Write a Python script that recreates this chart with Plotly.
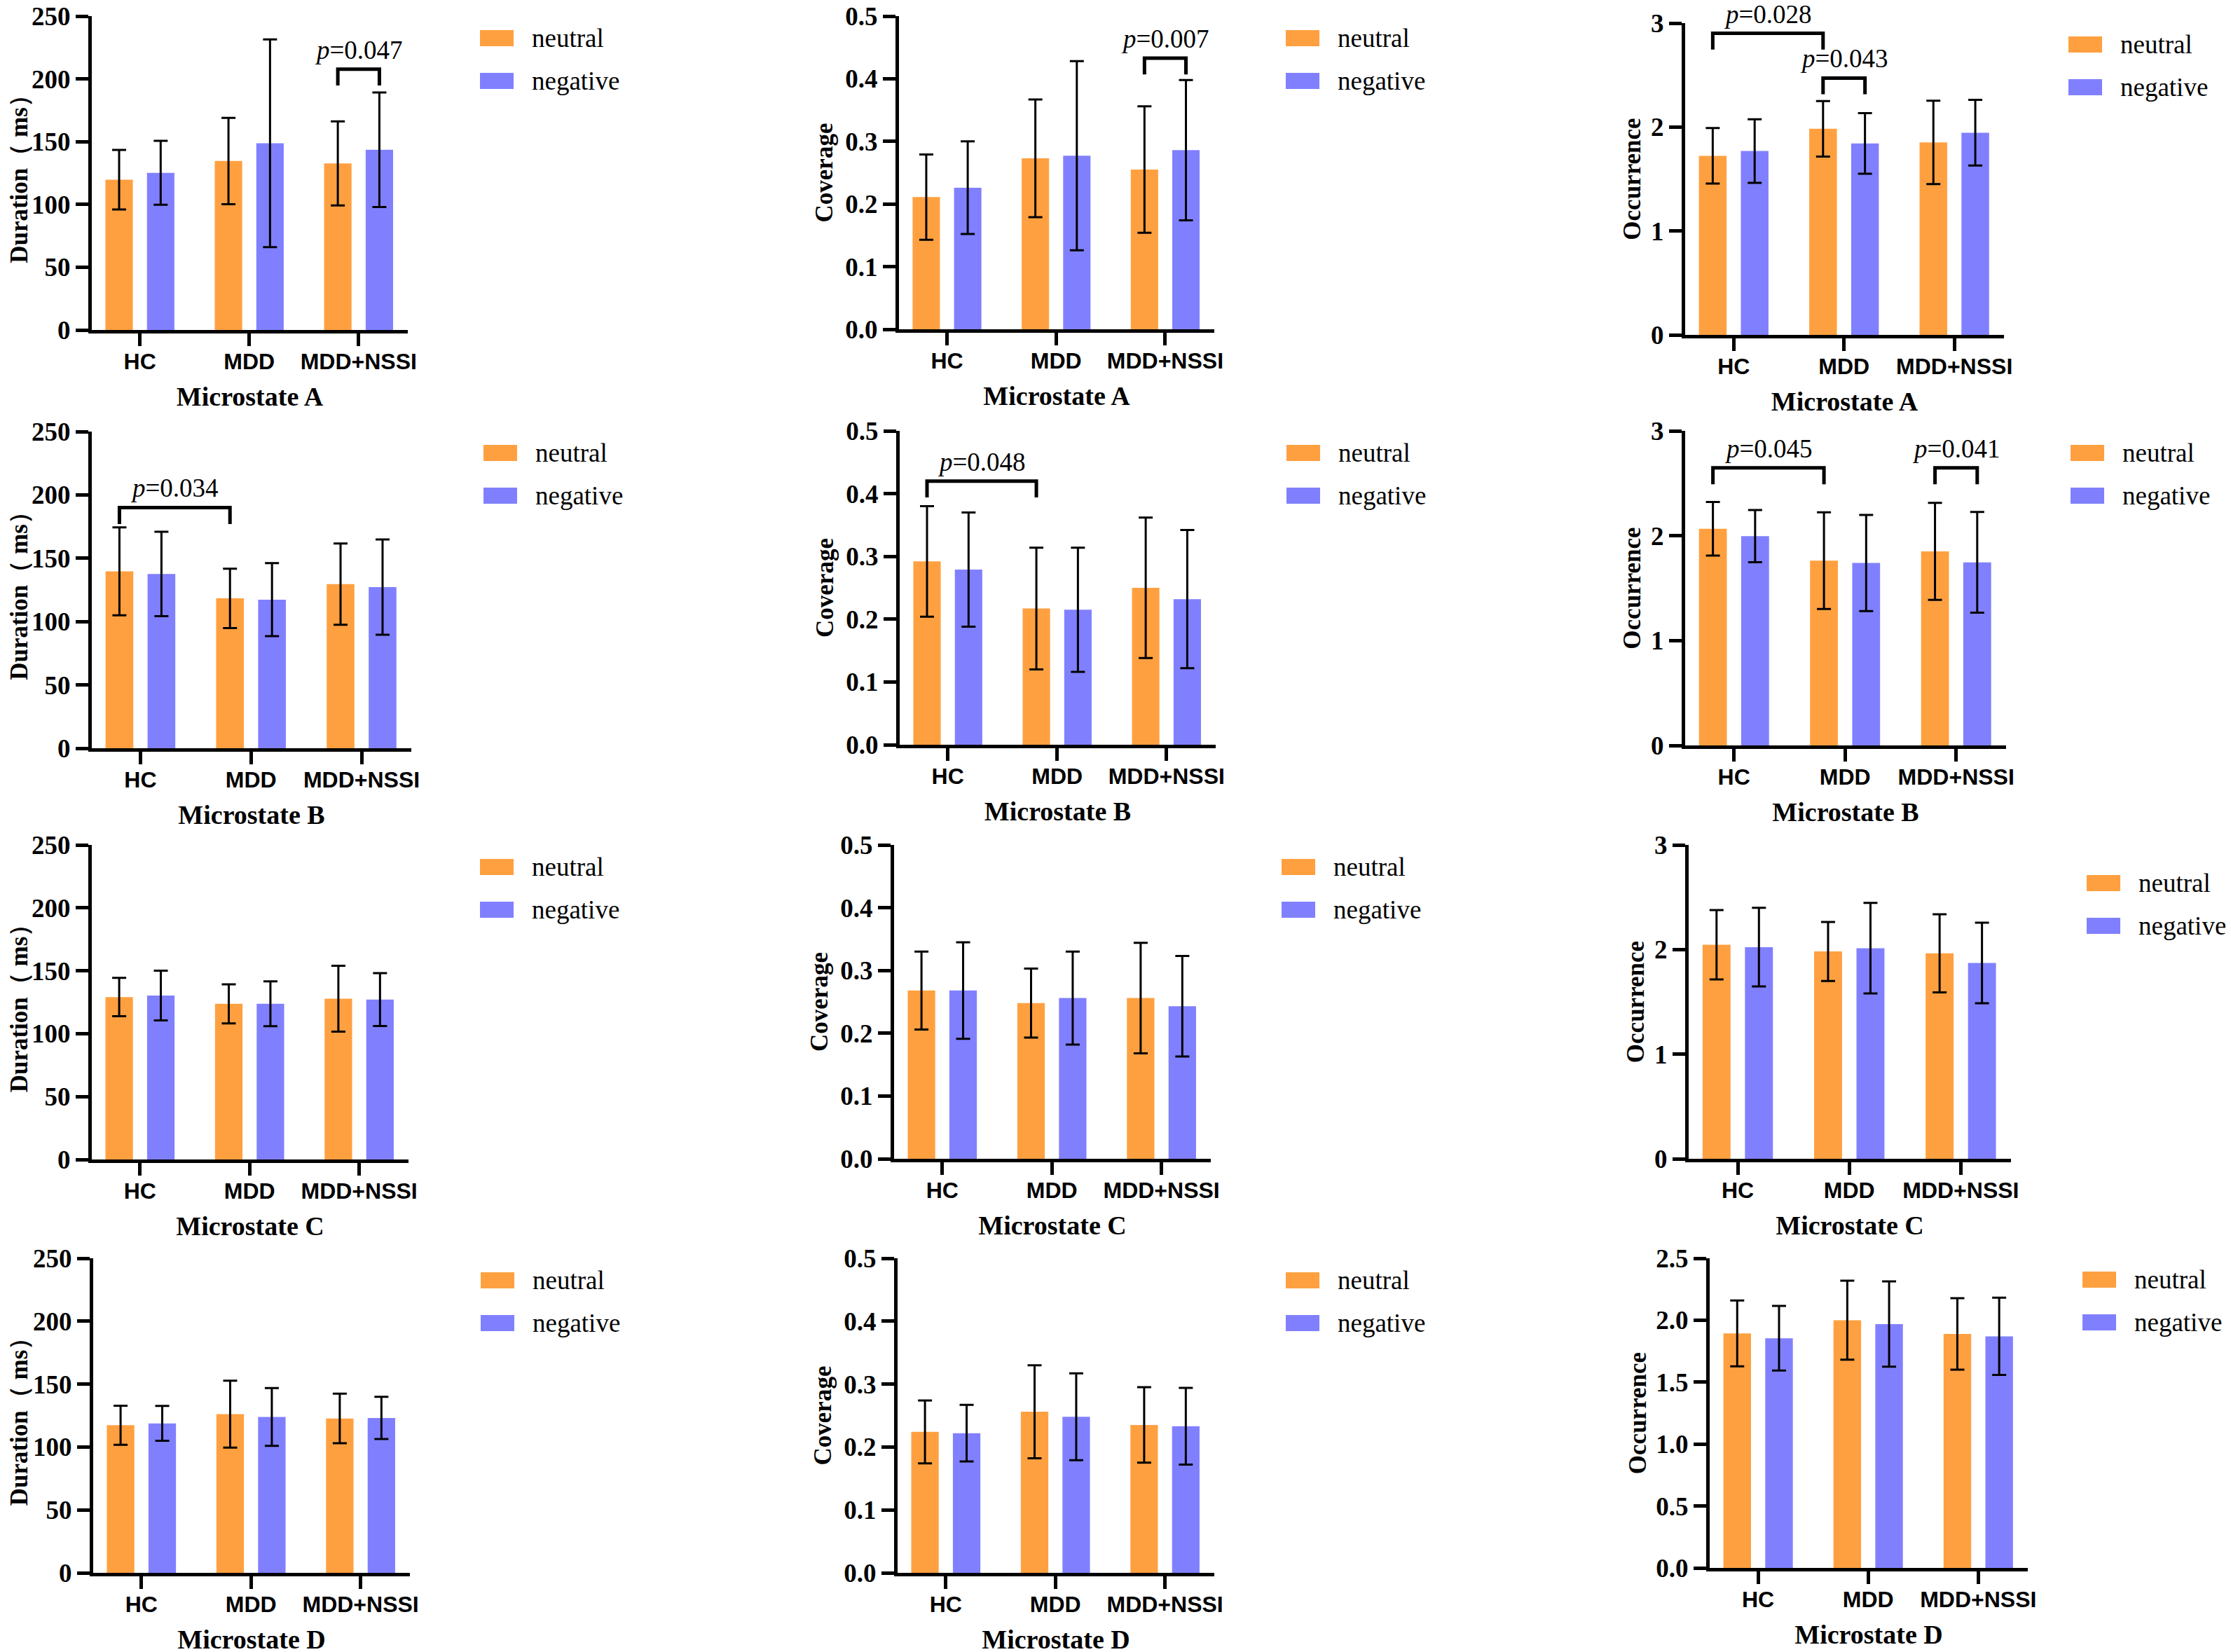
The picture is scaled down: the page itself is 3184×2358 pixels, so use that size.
import plotly.graph_objects as go
from plotly.subplots import make_subplots

W, H = 3184, 2358
PAGE_PAD = 8  # default body margin of the html page

GROUPS = ["HC", "MDD", "MDD+NSSI"]
MICROSTATES = ["A", "B", "C", "D"]
CONDITIONS = ["neutral", "negative"]
COLORS = {"neutral": "#FFA040", "negative": "#8080FF"}

# means and SDs, one row per microstate (A-D), one value per group
DUR_NEU = [[119.7, 134.6, 132.7], [139.7, 118.3, 129.6], [129.1, 123.7, 127.8], [117.3, 126.1, 122.7]]
DUR_NEU_SD = [[23.7, 34.4, 33.5], [34.7, 23.5, 32.1], [15.3, 15.5, 26.2], [15.5, 26.6, 19.7]]
DUR_NEG = [[125.2, 148.7, 143.6], [137.6, 117.3, 127.2], [130.3, 123.7, 127.1], [118.8, 123.9, 123.1]]
DUR_NEG_SD = [[25.5, 82.7, 45.6], [33.3, 28.8, 37.6], [19.8, 17.8, 21.0], [13.9, 23.0, 16.8]]

COV_NEU = [[0.211, 0.273, 0.255], [0.292, 0.217, 0.250], [0.268, 0.248, 0.256], [0.224, 0.256, 0.235]]
COV_NEU_SD = [[0.068, 0.094, 0.101], [0.088, 0.097, 0.112], [0.062, 0.055, 0.088], [0.050, 0.074, 0.060]]
COV_NEG = [[0.226, 0.277, 0.286], [0.279, 0.215, 0.232], [0.268, 0.256, 0.243], [0.222, 0.248, 0.233]]
COV_NEG_SD = [[0.074, 0.151, 0.112], [0.091, 0.099, 0.110], [0.077, 0.074, 0.080], [0.045, 0.069, 0.061]]

OCC_NEU = [[1.723, 1.983, 1.852], [2.066, 1.763, 1.851], [2.046, 1.982, 1.964], [1.893, 2.000, 1.889]]
OCC_NEU_SD = [[0.267, 0.267, 0.401], [0.256, 0.461, 0.463], [0.332, 0.282, 0.373], [0.266, 0.319, 0.288]]
OCC_NEG = [[1.769, 1.842, 1.945], [1.996, 1.740, 1.746], [2.023, 2.013, 1.872], [1.854, 1.969, 1.870]]
OCC_NEG_SD = [[0.306, 0.292, 0.316], [0.249, 0.459, 0.480], [0.376, 0.433, 0.385], [0.261, 0.344, 0.312]]

# significance brackets: (row, col, (group, condition) from, (group, condition) to, bracket height, p)
SIG = [
    (1, 1, (2, 0), (2, 1), 207.7, "0.047"),
    (1, 2, (2, 0), (2, 1), 0.433, "0.007"),
    (1, 3, (0, 0), (1, 0), 2.902, "0.028"),
    (1, 3, (1, 0), (1, 1), 2.471, "0.043"),
    (2, 1, (0, 0), (1, 0), 190.0, "0.034"),
    (2, 2, (0, 0), (1, 0), 0.420, "0.048"),
    (2, 3, (0, 0), (1, 0), 2.647, "0.045"),
    (2, 3, (2, 0), (2, 1), 2.647, "0.041"),
]

# panel frames in pixels: y-axis x, x-axis end, top y, zero y
FRAMES = {
    (1, 1): (131, 582, 23, 471), (1, 2): (1283, 1733, 23, 470), (1, 3): (2405, 2860, 33, 478),
    (2, 1): (131, 587, 616, 1068), (2, 2): (1284, 1735, 615, 1063), (2, 3): (2405, 2863, 615, 1064),
    (3, 1): (131, 583, 1206, 1655), (3, 2): (1276, 1728, 1206, 1654), (3, 3): (2410, 2870, 1206, 1654),
    (4, 1): (133, 585, 1796, 2245), (4, 2): (1281, 1733, 1796, 2245), (4, 3): (2440, 2894, 1796, 2238),
}
# legend swatch top-left in pixels
LEGEND_POS = {
    (1, 1): (685, 43), (1, 2): (1835, 43), (1, 3): (2952, 52),
    (2, 1): (690, 635), (2, 2): (1836, 635), (2, 3): (2955, 635),
    (3, 1): (685, 1226), (3, 2): (1829, 1226), (3, 3): (2978, 1249),
    (4, 1): (686, 1816), (4, 2): (1835, 1816), (4, 3): (2972, 1815),
}
YTITLE_STANDOFF = {1: 22, 2: 9, 3: 5}

BARGAP = 0.24
OFFSET = (1 - BARGAP) / 4
SERIF = "Liberation Serif"
SANS = "Liberation Sans"

METRICS = [
    ("Duration（ ms）", DUR_NEU, DUR_NEU_SD, DUR_NEG, DUR_NEG_SD),
    ("Coverage", COV_NEU, COV_NEU_SD, COV_NEG, COV_NEG_SD),
    ("Occurrence", OCC_NEU, OCC_NEU_SD, OCC_NEG, OCC_NEG_SD),
]


def axis_ticks(col, row):
    if col == 1:
        return [0, 50, 100, 150, 200, 250], [0, 250], "d"
    if col == 2:
        return [0, 0.1, 0.2, 0.3, 0.4, 0.5], [0, 0.5], ".1f"
    if row == 4:
        return [0, 0.5, 1.0, 1.5, 2.0, 2.5], [0, 2.5], ".1f"
    return [0, 1, 2, 3], [0, 3], "d"


def px_x(p):
    return (p - PAGE_PAD) / W


def px_y(p):
    return 1 - (p - PAGE_PAD) / H


fig = make_subplots(rows=4, cols=3)

for r, ms in enumerate(MICROSTATES, start=1):
    for c, (ytitle, neu, neu_sd, neg, neg_sd) in enumerate(METRICS, start=1):
        for cond, vals, sds in (("neutral", neu, neu_sd), ("negative", neg, neg_sd)):
            fig.add_trace(go.Bar(
                x=[0, 1, 2], y=vals[r - 1], name=cond,
                marker=dict(color=COLORS[cond], line=dict(width=0)),
                error_y=dict(type="data", array=sds[r - 1], color="black",
                             thickness=3, width=10),
                showlegend=False,
            ), row=r, col=c)

        x0, x1, top, zero = FRAMES[(r, c)]
        tickvals, yrange, fmt = axis_ticks(c, r)
        fig.update_xaxes(
            domain=[px_x(x0), px_x(x1)], range=[-0.44, 2.45], automargin=False,
            tickvals=[0, 1, 2], ticktext=GROUPS, ticklabelstandoff=-5,
            ticklabeloverflow="allow",
            showline=True, linewidth=5, linecolor="black",
            ticks="outside", ticklen=18, tickwidth=5, tickcolor="black",
            tickfont=dict(family=SANS, size=32, color="black", weight="bold"),
            showgrid=False, zeroline=False,
            title=dict(text=f"Microstate {ms}", standoff=20,
                       font=dict(family=SERIF, size=38, color="black", weight="bold")),
            row=r, col=c,
        )
        fig.update_yaxes(
            domain=[px_y(zero), px_y(top)], range=yrange, automargin=False,
            tickvals=tickvals, tickformat=fmt, ticklabeloverflow="allow",
            showline=True, linewidth=5, linecolor="black",
            ticks="outside", ticklen=18, tickwidth=5, tickcolor="black",
            tickfont=dict(family=SERIF, size=37, color="black", weight="bold"),
            showgrid=False, zeroline=False,
            title=dict(text=ytitle, standoff=YTITLE_STANDOFF[c],
                       font=dict(family=SERIF, size=35, color="black", weight="bold")),
            row=r, col=c,
        )

        # legend drawn per panel
        lx, ly = LEGEND_POS[(r, c)]
        for i, cond in enumerate(CONDITIONS):
            sy = ly + i * 61
            fig.add_shape(type="rect", xref="paper", yref="paper",
                          x0=px_x(lx), x1=px_x(lx + 48), y0=px_y(sy + 23), y1=px_y(sy),
                          fillcolor=COLORS[cond], line=dict(width=0))
            fig.add_annotation(x=px_x(lx + 72), y=px_y(sy + 11.5), xref="paper", yref="paper",
                               text=cond, showarrow=False, xanchor="left", yanchor="middle",
                               font=dict(family=SERIF, size=37, color="black"))

# significance brackets
for r, c, (g1, k1), (g2, k2), h, p in SIG:
    ymax = axis_ticks(c, r)[1][1]
    leg = h - 0.052 * ymax
    xa = g1 + (2 * k1 - 1) * OFFSET
    xb = g2 + (2 * k2 - 1) * OFFSET
    fig.add_shape(type="path", path=f"M {xa},{leg} L {xa},{h} L {xb},{h} L {xb},{leg}",
                  line=dict(color="black", width=5), row=r, col=c)
    fig.add_annotation(x=(xa + xb) / 2, y=h, text=f"<i>p</i>={p}", showarrow=False,
                       yanchor="bottom", yshift=6, borderpad=0,
                       font=dict(family=SERIF, size=37, color="black"), row=r, col=c)

fig.update_layout(
    width=W, height=H,
    margin=dict(l=0, r=0, t=0, b=0, autoexpand=False),
    barmode="group", bargap=BARGAP, bargroupgap=0.34,
    plot_bgcolor="white", paper_bgcolor="white",
    showlegend=False,
)

fig.write_html("out.html")
